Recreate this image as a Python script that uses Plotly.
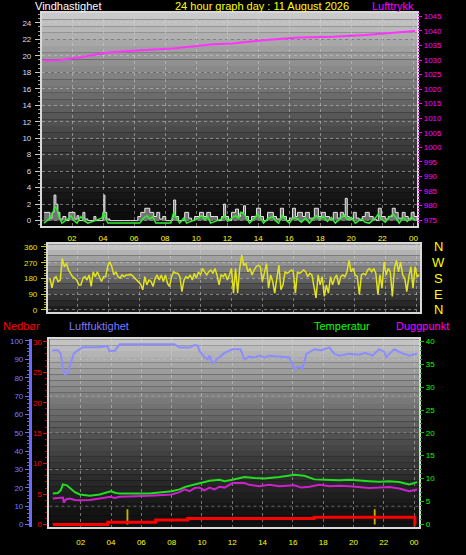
import numpy as np
import plotly.graph_objects as go

# ---------------- DATA ----------------
hour_ticks = [2, 4, 6, 8, 10, 12, 14, 16, 18, 20, 22, 24]
hour_labels = ["02", "04", "06", "08", "10", "12", "14", "16", "18", "20", "22", "00"]

# Panel 1: pressure (hPa)
press_t = [0.2, 1.2, 1.9, 2.5, 3.6, 4.4, 5.9, 7.5, 8.5, 10.2, 11.1, 12.35, 14.5, 16.65, 18.8, 20.9, 23.1, 24.1]
press_v = [1029.8, 1029.9, 1030.5, 1030.9, 1032.0, 1032.6, 1033.2, 1033.7, 1034.0, 1034.9, 1035.4, 1035.7,
           1036.9, 1037.7, 1038.0, 1038.6, 1039.4, 1040.0]

# Panel 1: wind gust (m/s)
gust_t = [0.19, 0.39, 0.58, 0.71, 0.84, 0.96, 1.09, 1.22, 1.41, 1.61, 1.80, 2.06, 2.19, 2.32, 2.44, 2.70, 2.83,
          3.02, 3.41, 3.54, 3.99, 4.05, 4.12, 4.24, 4.44, 6.24, 6.43, 6.69, 7.01, 7.27, 7.46, 7.65, 7.85, 8.04,
          8.49, 8.55, 8.68, 8.87, 9.26, 9.52, 9.71, 9.90, 10.22, 10.48, 10.68, 10.93, 11.19, 11.38, 11.64, 11.77,
          11.90, 12.09, 12.28, 12.54, 12.73, 12.86, 13.05, 13.18, 13.38, 13.57, 13.89, 14.15, 14.34, 14.60, 14.98,
          15.18, 15.43, 15.63, 15.82, 16.01, 16.21, 16.40, 16.53, 16.85, 17.04, 17.30, 17.62, 17.88, 18.07, 18.33,
          18.59, 18.84, 19.10, 19.29, 19.49, 19.61, 19.74, 19.87, 20.13, 20.32, 20.51, 20.71, 20.90, 21.16, 21.41,
          21.61, 21.74, 21.93, 22.19, 22.38, 22.64, 22.83, 23.02, 23.28, 23.47, 23.67, 23.86, 24.05, 24.24]
gust_v = [1.0, 1.0, 0.3, 1.0, 3.1, 2.0, 1.0, 0.2, 0.5, 0, 1.0, 1.0, 0.2, 0.6, 0, 1.0, 0.2,
          0, 0.5, 0, 1.0, 3.1, 1.0, 0.2, 0, 0.5, 1.0, 1.5, 1.0, 0.5, 1.0, 0.2, 0.5, 0,
          0.5, 2.5, 0.5, 0, 1.0, 0.3, 0, 0.5, 1.0, 0.5, 1.0, 0.5, 0.5, 0, 0.5, 2.0,
          0.5, 0, 1.0, 1.4, 0.5, 1.0, 1.8, 0.5, 0, 0.5, 1.5, 0.5, 0, 1.0, 0.5,
          0.2, 1.5, 0.5, 0, 0.3, 1.5, 0.5, 1.0, 0.5, 1.0, 0.3, 1.5, 0.5, 1.0, 0.5,
          0.2, 1.0, 0.3, 1.0, 0.5, 2.7, 0.5, 0.2, 1.0, 0.3, 0, 0.5, 1.0, 0.5, 0.2,
          0, 1.5, 0.5, 0.2, 0.5, 1.5, 1.0, 0.3, 1.0, 0.5, 0.2, 1.0, 0.5, 0]

# Panel 1: average wind (m/s)
wind_t = [0.19, 0.58, 0.77, 0.90, 1.03, 1.16, 1.35, 1.74, 1.93, 2.12, 2.32, 2.57, 2.77, 3.02, 3.92, 4.05, 4.18,
          4.31, 6.37, 6.62, 6.82, 7.01, 7.20, 7.40, 8.36, 8.55, 8.75, 8.94, 9.20, 9.39, 10.16, 10.35, 10.55,
          10.74, 10.93, 11.64, 11.83, 12.03, 12.28, 12.54, 12.73, 12.86, 13.05, 13.25, 13.44, 13.76, 13.95,
          14.15, 14.34, 14.60, 14.92, 15.11, 15.31, 15.56, 15.76, 16.01, 16.27, 16.53, 16.78, 17.04, 17.30,
          17.56, 17.75, 17.94, 18.20, 18.46, 18.71, 18.97, 19.29, 19.55, 19.74, 20.00, 20.26, 20.64, 20.90,
          21.16, 21.54, 21.74, 21.93, 22.19, 22.44, 22.70, 22.89, 23.09, 23.34, 23.60, 23.86, 24.12]
wind_v = [-0.3, 0.3, 1.0, 1.7, 1.4, 0.5, -0.3, 0.2, 0.6, 0, -0.3, 0.5, 0, -0.3, 0.3, 1.0, 0.2,
          -0.3, -0.3, 0.3, 0.6, 0.2, 0.5, -0.3, -0.3, 1.0, 0.2, -0.3, 0.3, -0.3, 0.3, 0.6, 0.1,
          0.5, -0.3, 0.2, 0.6, -0.1, 0.3, 0.6, 0.3, 1.0, 0.9, 0.2, -0.3, 0.3, 0.8,
          0.3, -0.3, 0.2, 0.5, 0, -0.3, 0.6, 0.1, -0.3, 0.4, 0.2, -0.2, 0.3, -0.3,
          0.3, 0.6, 0.2, 0.5, -0.1, 0.4, -0.3, 0.3, 0.7, 0.1, 0.4, -0.3, 0.2, -0.2,
          -0.3, 0.3, 0.8, 0.2, -0.2, 0.4, 0.8, 0.3, -0.3, 0.4, -0.1, 0.4, 0.0]

# Panel 2: wind direction (degrees), regular samples over the day
dir_start, dir_end = 0.19, 24.18
dir_v = [181, 126, 181, 190, 162, 171, 294, 247, 265, 228, 209, 190, 181, 171, 143, 143, 181, 190, 171, 200,
         134, 218, 190, 218, 190, 162, 190, 190, 247, 275, 247, 200, 218, 190, 181, 200, 190, 200, 200, 203,
         196, 185, 171, 162, 147, 115, 190, 143, 171, 162, 134, 181, 200, 171, 200, 162, 200, 152, 134, 190,
         218, 209, 209, 190, 105, 171, 190, 181, 200, 171, 209, 181, 218, 200, 237, 218, 200, 218, 228, 209,
         237, 200, 143, 200, 190, 209, 171, 200, 237, 96, 237, 96, 237, 313, 256, 265, 218, 237, 200, 228,
         247, 256, 247, 162, 218, 265, 124, 200, 162, 96, 181, 256, 115, 143, 218, 209, 218, 228, 218, 96,
         218, 209, 218, 228, 218, 190, 209, 200, 134, 69, 200, 143, 190, 77, 143, 96, 190, 143, 181, 200,
         143, 190, 200, 190, 218, 284, 218, 237, 200, 190, 87, 200, 209, 200, 228, 237, 218, 237, 209, 87,
         200, 124, 275, 200, 237, 218, 77, 237, 284, 218, 275, 200, 181, 105, 190, 247, 124, 247, 190, 200]
compass_labels = ["N", "W", "S", "E", "N"]
compass_vals = [360, 270, 180, 90, 0]

# Panel 3: humidity (%)
hum_t = [0.1, 0.49, 0.69, 0.82, 0.95, 1.15, 1.34, 1.54, 1.74, 2.13, 3.25, 3.72, 3.91, 4.24, 4.57, 8.19, 8.52,
         9.18, 9.51, 9.71, 9.84, 10.04, 10.17, 10.37, 10.5, 10.7, 10.83, 11.03, 11.16, 11.49, 11.82, 12.02,
         12.54, 12.8, 13.13, 13.46, 13.79, 14.12, 14.45, 15.11, 15.77, 16.1, 16.43, 16.63, 16.89, 17.42, 17.88,
         18.41, 18.74, 19.07, 19.73, 20.39, 20.78, 21.24, 21.7, 22.03, 22.16, 22.36, 22.69, 23.15, 23.68, 24.2]
hum_v = [95, 95, 93, 85, 82, 82.5, 88, 93, 94.5, 96.6, 96.6, 97.3, 94.6, 94.6, 98.2, 98.2, 96.4,
         96.4, 97.8, 97.5, 94.6, 92.5, 91.2, 90, 92, 88, 88.4, 90.5, 91.2, 93.5, 95, 95.5,
         95.5, 90, 91.5, 91, 92, 91, 92, 91.5, 91, 84.8, 86, 85, 93, 95.5, 95,
         96.4, 93, 92, 93, 92.5, 93.5, 92, 95.5, 94, 91.2, 93, 95.5, 93.5, 92, 93.2]

# Panel 3: temperature (°C)
temp_t = [0.16, 0.49, 0.69, 0.82, 1.08, 1.28, 1.61, 1.94, 2.6, 3.25, 3.78, 3.98, 4.31, 4.57, 6.55, 7.2, 8.0,
          8.52, 8.85, 9.31, 9.84, 10.17, 10.5, 11.16, 11.49, 12.02, 12.34, 12.8, 13.46, 14.12, 15.11, 15.77,
          16.1, 16.76, 17.09, 17.42, 18.08, 19.07, 19.73, 20.39, 21.05, 21.7, 22.36, 23.02, 23.68, 24.2]
temp_v = [6.7, 6.8, 7.5, 8.7, 8.5, 8.0, 7.0, 6.5, 6.2, 6.5, 7.0, 7.2, 6.8, 6.7, 6.7, 6.9, 7.2,
          7.6, 8.1, 8.5, 9.0, 9.3, 9.5, 9.7, 9.4, 9.7, 9.9, 10.3, 10.1, 10.0, 10.3, 10.6,
          10.8, 10.6, 10.2, 9.8, 9.7, 9.6, 9.7, 9.5, 9.4, 9.3, 9.4, 9.2, 8.7, 9.2]

# Panel 3: dew point (°C)
dew_t = [0.16, 0.62, 0.82, 0.88, 1.01, 1.28, 1.61, 1.94, 2.6, 3.25, 3.98, 4.24, 4.57, 6.55, 8.0, 8.52, 8.85,
         9.18, 9.51, 9.84, 10.17, 10.5, 10.83, 11.16, 11.49, 12.02, 12.8, 13.13, 13.79, 14.45, 15.11, 16.1,
         16.56, 17.09, 17.75, 18.41, 19.07, 19.73, 20.39, 21.05, 21.7, 22.36, 23.02, 23.68, 24.2]
dew_v = [5.6, 5.8, 5.8, 4.7, 5.4, 5.6, 5.3, 5.2, 5.3, 5.6, 6.0, 5.7, 6.0, 6.2, 6.5, 7.0, 7.6,
         7.2, 7.9, 8.0, 7.4, 8.0, 7.6, 8.2, 8.0, 9.0, 9.0, 8.6, 8.3, 8.6, 8.3, 8.5,
         8.0, 8.2, 8.6, 8.3, 8.4, 8.3, 8.1, 7.9, 8.0, 8.1, 7.8, 7.2, 7.6]

# Panel 3: accumulated precipitation (mm) and rain rate bars
rain_t = [0.16, 3.78, 6.94, 9.05, 17.4, 24.05, 24.12]
rain_v = [0, 0.4, 0.75, 1.0, 1.2, 0, 0]
rate_t = [5.08, 21.4]
rate_v = [2.5, 2.5]

# ---------------- FIGURE ----------------
W, H = 466, 555
def px(x):
    return x / W
def py(y):
    return 1 - y / H

FONT = "Liberation Sans, Arial, sans-serif"
fig = go.Figure()

# Panel 1 traces
fig.add_trace(go.Scatter(x=gust_t, y=gust_v, mode="lines", line=dict(color="#e6e6e6", width=1, shape="hv"),
                         fill="tozeroy", fillcolor="rgba(150,150,150,0.75)", xaxis="x", yaxis="y"))
fig.add_trace(go.Scatter(x=wind_t, y=wind_v, mode="lines", line=dict(color="#33ee33", width=1.5),
                         xaxis="x", yaxis="y"))
fig.add_trace(go.Scatter(x=press_t, y=press_v, mode="lines", line=dict(color="#ff33ff", width=2),
                         xaxis="x", yaxis="y2"))

# Panel 2
dir_t = np.linspace(dir_start, dir_end, len(dir_v))
fig.add_trace(go.Scatter(x=dir_t, y=dir_v, mode="lines", line=dict(color="#e2e21e", width=1.5),
                         xaxis="x3", yaxis="y3"))

# Panel 3
fig.add_trace(go.Bar(x=rate_t, y=rate_v, width=0.12, marker=dict(color="#c8b400", line_width=0),
                     xaxis="x4", yaxis="y4"))
fig.add_trace(go.Scatter(x=hum_t, y=hum_v, mode="lines", line=dict(color="#8c8cff", width=2),
                         xaxis="x4", yaxis="y5"))
fig.add_trace(go.Scatter(x=temp_t, y=temp_v, mode="lines", line=dict(color="#22dd22", width=2),
                         xaxis="x4", yaxis="y6"))
fig.add_trace(go.Scatter(x=dew_t, y=dew_v, mode="lines", line=dict(color="#cc22cc", width=2),
                         xaxis="x4", yaxis="y6"))
fig.add_trace(go.Scatter(x=rain_t, y=rain_v, mode="lines", line=dict(color="#ff0000", width=3, shape="hv"),
                         xaxis="x4", yaxis="y4"))

# gradient backgrounds
shapes = []
def gradient(xr, yr, top, bottom, n=32, gamma=1.4):
    for i in range(n):
        f0, f1 = i / n, (i + 1) / n
        fm = (f0 + f1) / 2
        c = int(round(bottom + (top - bottom) * (1 - fm) ** gamma))
        shapes.append(dict(type="rect", xref=xr, yref=yr, x0=0, x1=1, y0=1 - f1, y1=1 - f0,
                           fillcolor=f"rgb({c},{c},{c})", line_width=0, layer="below"))

gradient("x domain", "y domain", 205, 10)
gradient("x3 domain", "y3 domain", 205, 25, n=12, gamma=1.2)
gradient("x4 domain", "y4 domain", 200, 15)

# horizontal dotted grid lines in panel 3 (humidity scale)
for hv in [10, 30, 50, 70, 90]:
    shapes.append(dict(type="line", xref="x4 domain", yref="y5", x0=0, x1=1, y0=hv, y1=hv,
                       line=dict(color="rgba(200,200,200,0.45)", width=1, dash="dot"), layer="below"))

GRID = "rgba(210,210,210,0.5)"
FRAME = "#d8d8d8"
tick8 = dict(family=FONT, size=8)

common_x = dict(tickvals=hour_ticks, showgrid=True, gridcolor=GRID, griddash="dot", gridwidth=1,
                showline=True, linecolor=FRAME, linewidth=2, mirror=True, zeroline=False, ticks="")

fig.update_layout(
    width=W, height=H, margin=dict(l=0, r=0, t=0, b=0),
    paper_bgcolor="black", plot_bgcolor="black", showlegend=False, shapes=shapes,
    xaxis=dict(domain=[px(42), px(418)], range=[0.06, 24.24], anchor="y", ticktext=hour_labels,
               tickfont=dict(tick8, color="#ffff00"), ticklabelstandoff=4, **common_x),
    yaxis=dict(domain=[py(225), py(10)], range=[-0.6, 25.2], anchor="x", tickvals=list(range(0, 25, 2)),
               tickfont=dict(tick8, color="#d0deff"), ticks="outside", ticklen=5, tickcolor="#c8c8c8",
               ticklabelstandoff=2,
               minor=dict(dtick=0.5, ticks="outside", ticklen=2, tickcolor="#a0a0a0", showgrid=False),
               showgrid=True, gridcolor=GRID, griddash="dot", showline=True, linecolor=FRAME, linewidth=2,
               mirror=True, zeroline=False),
    yaxis2=dict(overlaying="y", side="right", anchor="x", range=[973.1, 1046.2],
                tickvals=list(range(975, 1046, 5)), tickfont=dict(tick8, color="#ff00ff"),
                ticks="outside", ticklen=4, tickcolor="#ff00ff",
                minor=dict(dtick=1, ticks="outside", ticklen=2, tickcolor="#cc00cc"),
                showgrid=False, zeroline=False),
    xaxis3=dict(domain=[px(48), px(421)], range=[0.06, 24.24], anchor="y3", showticklabels=False,
                **common_x),
    yaxis3=dict(domain=[py(312), py(244)], range=[-10, 375], anchor="x3", tickvals=[0, 90, 180, 270, 360],
                tickfont=dict(tick8, color="#e6e600"), ticks="outside", ticklen=5, tickcolor="#d0d000",
                ticklabelstandoff=2,
                minor=dict(dtick=15, ticks="outside", ticklen=2, tickcolor="#b0b000"),
                showgrid=True, gridcolor=GRID, griddash="dot", showline=True, linecolor=FRAME, linewidth=2,
                mirror=True, zeroline=False),
    xaxis4=dict(domain=[px(49.5), px(420)], range=[-0.07, 24.33], anchor="y4", ticktext=hour_labels,
                tickfont=dict(tick8, color="#ffff00"), ticklabelstandoff=6, **common_x),
    yaxis4=dict(domain=[py(530), py(340)], range=[-0.44, 30.4], anchor="x4", tickvals=list(range(0, 31, 5)),
                tickfont=dict(tick8, color="#ff0000"), ticks="outside", ticklen=4, tickcolor="#ff0000",
                minor=dict(dtick=1, ticks="outside", ticklen=2, tickcolor="#cc0000"),
                showgrid=False, showline=True, linecolor=FRAME, linewidth=2, mirror=True, zeroline=False),
    yaxis5=dict(overlaying="y4", side="left", anchor="free", position=px(30), range=[-1.45, 100.9],
                tickvals=list(range(0, 101, 10)), tickfont=dict(tick8, color="#7b7bff"),
                ticks="outside", ticklen=4, tickcolor="#7070ff",
                minor=dict(dtick=2, ticks="outside", ticklen=2, tickcolor="#6060e0"),
                showline=True, linecolor="#6a6aff", linewidth=3, showgrid=False, zeroline=False),
    yaxis6=dict(overlaying="y4", side="right", anchor="x4", range=[-0.7, 40.5],
                tickvals=list(range(0, 41, 5)), tickfont=dict(tick8, color="#00ff00"),
                ticks="outside", ticklen=4, tickcolor="#00cc00",
                minor=dict(dtick=1, ticks="outside", ticklen=2, tickcolor="#00aa00"),
                showgrid=False, zeroline=False),
)

def label(text, x, y, color, size=11, xanchor="left"):
    fig.add_annotation(text=text, x=px(x), y=py(y), xref="paper", yref="paper", showarrow=False,
                       xanchor=xanchor, yanchor="middle", font=dict(family=FONT, size=size, color=color))

label("Vindhastighet", 33, 3.5, "#ffffff")
label("24 hour graph day : 11 August 2026", 173, 3.5, "#ffff00")
label("Lufttrykk", 371, 3.5, "#ff00ff")
label("Nedbør", 1, 327, "#ff0000")
label("Luftfuktighet", 67, 327, "#7b7bff")
label("Temperatur", 313, 327, "#00ff00")
label("Duggpunkt", 395, 327, "#ff00ff")

for txt, v in zip(compass_labels, compass_vals):
    fig.add_annotation(text=txt, x=px(439), y=v, xref="paper", yref="y3", showarrow=False,
                       xanchor="center", yanchor="middle", font=dict(family=FONT, size=13, color="#ffff00"))

fig.write_html("out.html", config={"displayModeBar": False, "staticPlot": True},
               post_script="document.body.style.margin='0';document.body.style.background='black';"
                           "document.body.style.overflow='hidden';")
